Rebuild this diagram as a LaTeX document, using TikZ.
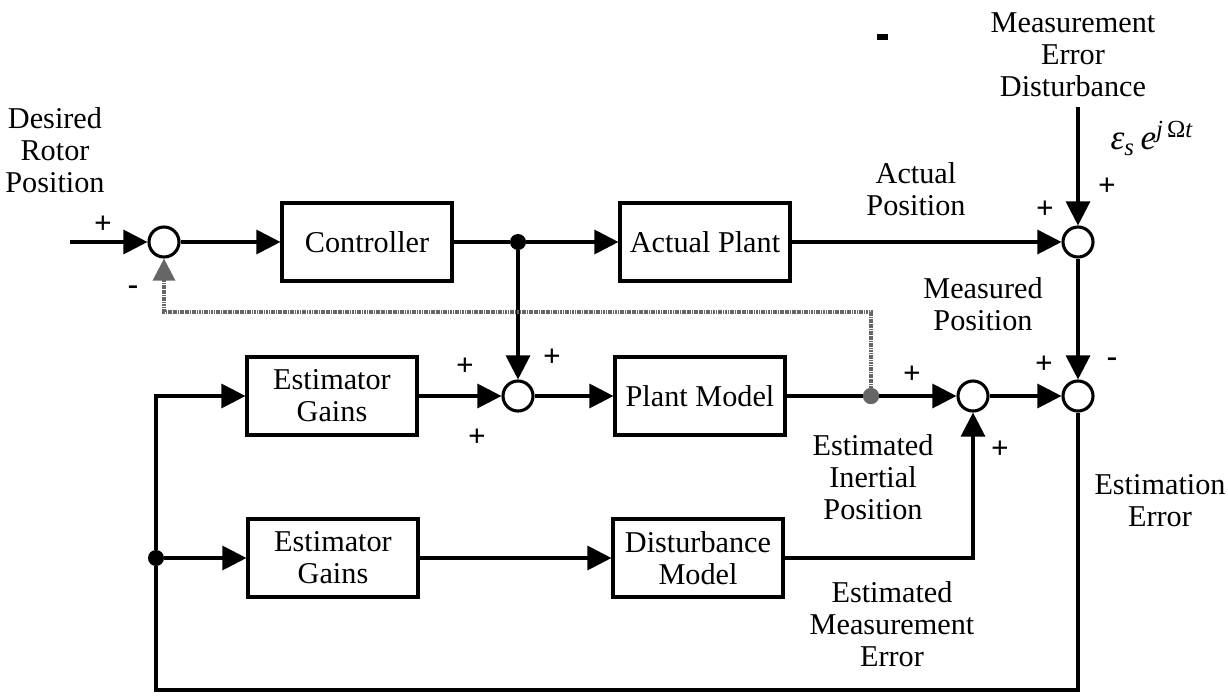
\documentclass[tikz,border=0pt]{standalone}
\usepackage{fontspec}
\setmainfont{Liberation Serif}
\usetikzlibrary{arrows.meta}
\tikzset{
  block/.style={draw=black, line width=2.2pt, minimum width=4.25cm, minimum height=1.95cm, align=center, inner sep=2pt},
  sum/.style={circle, draw=black, line width=2.2pt, minimum size=0.75cm, inner sep=0pt},
  wire/.style={line width=2.2pt},
  conn/.style={wire, -{Triangle[length=0.6cm,width=0.6cm]}},
  fback/.style={line width=2.2pt, black!60, dash pattern=on 1.2pt off 0.5pt, -{Triangle[length=0.55cm,width=0.55cm]}},
  lbl/.style={align=center, inner sep=0pt},
  sgn/.style={inner sep=0pt, font=\fontsize{22}{22}\selectfont\bfseries},
  jdot/.style={circle, fill=black, minimum size=0.4cm, inner sep=0pt},
}
\begin{document}
\begin{tikzpicture}[x=0.025cm, y=-0.025cm, font=\fontsize{21.5}{22.8}\selectfont]
\useasboundingbox (0,0) rectangle (1228,698);
\coordinate (in) at (70,242);
\node[sum] (s1) at (164,242) {};
\node[block] (ctrl) at (367,242) {Controller};
\node[jdot] (br1) at (518,242) {};
\node[block] (plant) at (705,242) {Actual Plant};
\node[sum] (s3) at (1078,242) {};
\coordinate (mtop) at (1078,107);
\node[sum] (s2) at (518,396) {};
\node[block] (est1) at (332,396) {Estimator\\Gains};
\node[block] (pmod) at (700,396) {Plant Model};
\node[jdot, fill=black!60] (gdot) at (871,396) {};
\node[sum] (s4) at (973,396) {};
\node[sum] (s5) at (1078,396) {};
\node[jdot] (br2) at (156,558) {};
\node[block] (est2) at (333,558) {Estimator\\Gains};
\node[block] (dmod) at (698,558) {Disturbance\\Model};
\coordinate (bcorner) at (156,690);
\coordinate (fbl) at (164,312);

\draw[conn] (in) -- (s1);
\draw[conn] (s1) -- (ctrl);
\draw[wire] (ctrl) -- (br1);
\draw[conn] (br1) -- (plant);
\draw[conn] (plant) -- (s3);
\draw[conn] (mtop) -- (s3);
\draw[conn] (s3) -- (s5);
\draw[conn] (br1) -- (s2);
\draw[conn] (est1) -- (s2);
\draw[conn] (s2) -- (pmod);
\draw[wire] (pmod) -- (gdot);
\draw[conn] (gdot) -- (s4);
\draw[conn] (s4) -- (s5);
\draw[conn] (dmod) -| (s4);
\draw[conn] (br2) -- (est2);
\draw[conn] (est2) -- (dmod);
\draw[wire] (s5) |- (bcorner) -- (br2);
\draw[conn] (br2) |- (est1);
\draw[fback] (gdot) |- (fbl) -- (s1);
\node[jdot, fill=black!60] at (gdot) {};

\node[lbl] (desired) at (55,150) {Desired\\Rotor\\Position};
\node[lbl] (merr) at (1073,55) {Measurement\\Error\\Disturbance};
\node[lbl, font=\fontsize{25}{26}\selectfont] (eps) at (1152,138) {\textit{ε}\textsubscript{\textit{s}}\,\textit{e}\textsuperscript{\textit{j}\,Ω\textit{t}}};
\node[lbl] (actpos) at (916,189) {Actual\\Position};
\node[lbl] (mespos) at (983,304) {Measured\\Position};
\node[lbl] (einert) at (873,477) {Estimated\\Inertial\\Position};
\node[lbl] (emeas) at (892,624) {Estimated\\Measurement\\Error};
\node[lbl] (eerr) at (1160,501) {Estimation\\Error};

\node[sgn] (p1) at (103,225) {+};
\node[sgn] (m1) at (133,290) {-};
\node[sgn] (p2) at (465,367) {+};
\node[sgn] (p3) at (477,438) {+};
\node[sgn] (p4) at (552,358) {+};
\node[sgn] (p5) at (1045,210) {+};
\node[sgn] (p6) at (1107,187) {+};
\node[sgn] (p7) at (912,375) {+};
\node[sgn] (p8) at (1044,365) {+};
\node[sgn] (m2) at (1112,362) {-};
\node[sgn] (p9) at (1000,450) {+};
\fill (877,34) rectangle (888,40);
\end{tikzpicture}
\end{document}
